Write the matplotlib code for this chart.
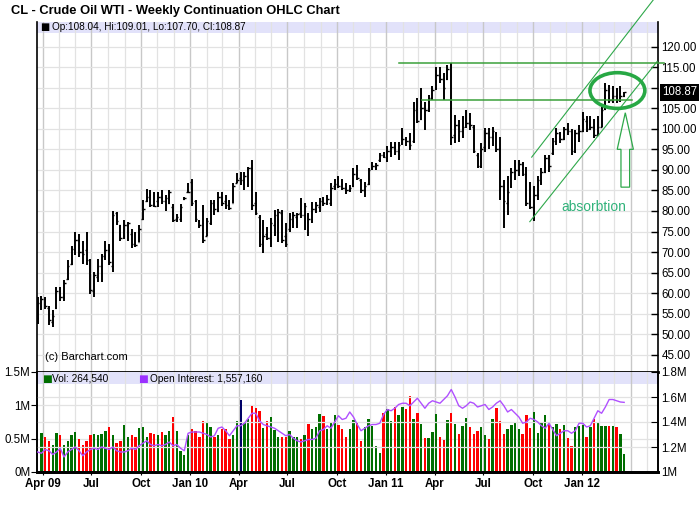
import matplotlib
matplotlib.use('Agg')
import matplotlib.pyplot as plt
import matplotlib.dates as mdates
import matplotlib.transforms as mtransforms
from matplotlib.patches import Ellipse, Polygon
import numpy as np
import pandas as pd

plt.rcParams['font.family'] = ['Liberation Sans', 'DejaVu Sans']

# ---------------- data (weekly bars, first week starts 2009-03-23) ----------------
first_week = '2009-03-23'

opens = [54.0, 57.0, 58.5, 56.5, 53.0, 56.5, 60.5, 59.0, 63.5, 67.0,
         70.5, 73.0, 70.0, 70.5, 68.0, 60.5, 64.0, 66.5, 69.0, 70.5,
         66.5, 79.5, 76.5, 74.0, 76.5, 74.5, 72.0, 72.5, 78.0, 82.5,
         84.0, 82.0, 82.5, 83.5, 82.5, 82.0, 81.0, 78.0, 78.0, 82.8,
         84.5, 87.0, 82.5, 77.5, 77.0, 74.0, 77.0, 81.5, 80.0, 83.5,
         82.5, 82.0, 81.9, 86.7, 88.0, 87.0, 86.5, 90.5, 82.0, 78.5,
         72.5, 74.5, 73.5, 76.5, 78.0, 79.5, 74.0, 75.5, 77.5, 78.5,
         79.5, 79.0, 79.0, 77.5, 80.5, 81.0, 82.5, 82.0, 82.0, 86.0,
         87.0, 86.5, 85.5, 85.0, 86.0, 89.0, 87.5, 85.0, 86.5, 90.5,
         91.0, 92.5, 93.5, 93.0, 94.5, 95.5, 94.5, 96.5, 97.5, 97.0,
         97.0, 104.0, 102.5, 105.0, 104.5, 107.5, 110.0, 113.0, 112.0, 112.0,
         115.5, 98.5, 101.0, 99.5, 101.0, 101.5, 100.5, 93.5, 91.0, 95.5,
         99.0, 98.0, 99.0, 95.0, 86.0, 82.0, 86.0, 89.5, 90.0, 91.5,
         89.0, 82.5, 81.0, 84.0, 87.0, 89.5, 93.0, 94.0, 97.0, 99.0,
         97.5, 100.0, 99.5, 94.5, 99.0, 99.5, 102.0, 100.0, 100.5, 98.5,
         100.5, 104.8, 109.5, 107.0, 108.0, 107.0, 108.04]

highs = [59.1, 59.2, 59.0, 57.0, 55.8, 61.5, 61.5, 63.3, 68.0, 71.6,
         74.9, 74.5, 72.8, 74.9, 68.4, 65.1, 68.4, 69.6, 72.8, 72.0,
         80.1, 79.7, 76.5, 77.7, 77.3, 75.7, 74.9, 76.5, 82.6, 85.4,
         85.0, 84.6, 84.6, 85.0, 83.8, 85.2, 81.8, 79.3, 81.8, 83.4,
         86.9, 87.7, 82.7, 77.8, 81.5, 78.2, 82.7, 82.7, 84.7, 84.7,
         83.9, 82.7, 86.7, 89.2, 89.6, 89.6, 90.8, 92.4, 84.7, 79.0,
         77.8, 76.2, 78.2, 80.2, 80.6, 80.2, 77.0, 79.4, 79.8, 79.4,
         83.1, 81.9, 79.4, 82.3, 82.3, 83.1, 83.5, 83.9, 86.7, 87.9,
         88.4, 87.9, 86.7, 86.3, 90.4, 91.2, 87.9, 87.1, 90.4, 92.0,
         91.6, 94.0, 94.4, 95.7, 96.7, 96.9, 96.9, 100.1, 98.1, 98.9,
         106.6, 107.4, 109.8, 106.6, 108.2, 110.3, 115.1, 115.1, 113.5, 115.5,
         115.9, 103.4, 102.1, 103.0, 104.6, 103.8, 100.9, 94.0, 96.5, 100.1,
         100.1, 100.5, 99.3, 98.1, 87.5, 88.4, 90.4, 92.4, 92.4, 92.0,
         90.8, 87.1, 86.0, 88.4, 90.4, 93.6, 93.6, 97.7, 100.1, 99.3,
         100.5, 101.3, 100.0, 99.7, 100.9, 104.2, 103.0, 103.0, 102.5, 103.0,
         105.4, 111.1, 110.7, 110.3, 109.8, 110.3, 109.01]

lows = [52.6, 55.8, 56.2, 52.2, 51.8, 56.2, 58.1, 58.2, 63.1, 66.8,
        69.2, 68.8, 67.2, 66.8, 59.9, 59.1, 62.7, 62.7, 68.0, 66.8,
        65.2, 76.5, 72.8, 73.3, 72.8, 70.9, 71.3, 72.4, 77.7, 82.2,
        80.9, 81.0, 80.9, 81.8, 80.1, 81.8, 77.3, 77.3, 77.3, 82.6,
        84.3, 81.1, 77.4, 75.8, 72.1, 73.8, 76.6, 79.0, 79.8, 81.1,
        80.6, 80.2, 81.9, 86.7, 86.3, 85.1, 85.9, 80.2, 79.0, 71.3,
        69.7, 73.0, 71.3, 73.8, 72.5, 72.1, 71.3, 75.0, 75.8, 75.8,
        78.2, 75.4, 73.8, 77.0, 79.4, 79.8, 81.1, 81.5, 81.1, 85.1,
        85.5, 85.1, 84.1, 84.7, 85.9, 87.5, 84.3, 83.5, 86.3, 90.0,
        90.0, 92.0, 92.8, 92.0, 93.2, 93.6, 92.4, 96.1, 95.7, 94.8,
        96.5, 101.3, 102.1, 99.7, 104.2, 107.0, 109.4, 111.1, 107.0, 111.9,
        96.1, 96.5, 96.9, 97.7, 100.1, 99.7, 94.0, 90.4, 90.4, 94.4,
        95.2, 95.7, 94.4, 82.7, 75.8, 79.0, 85.5, 87.5, 88.4, 88.4,
        81.1, 80.5, 77.6, 82.7, 86.3, 89.2, 89.6, 93.5, 96.1, 96.5,
        97.3, 98.5, 93.6, 94.0, 96.9, 99.3, 99.3, 99.7, 97.7, 98.5,
        100.5, 104.5, 106.2, 106.2, 106.2, 106.5, 107.70]

closes = [57.5, 58.5, 57.0, 53.5, 54.5, 60.5, 59.0, 62.5, 66.5, 70.8,
          73.0, 70.0, 69.5, 68.0, 60.8, 64.5, 66.5, 69.0, 70.5, 67.5,
          79.0, 77.5, 73.5, 76.5, 77.0, 72.0, 71.8, 75.5, 80.5, 83.5,
          81.5, 81.2, 83.5, 82.5, 83.2, 84.5, 77.7, 78.5, 81.0, 83.2,
          84.7, 82.0, 78.0, 76.5, 73.0, 77.5, 82.0, 80.5, 83.5, 82.0,
          81.5, 80.8, 86.0, 87.5, 87.5, 88.5, 90.5, 81.5, 79.5, 72.0,
          74.0, 73.5, 77.0, 79.0, 79.8, 73.0, 72.0, 78.0, 79.0, 79.3,
          79.0, 81.2, 78.0, 80.5, 81.5, 82.5, 82.0, 83.0, 85.5, 86.5,
          86.0, 85.5, 85.0, 85.5, 89.0, 88.0, 85.0, 86.0, 90.0, 91.0,
          91.3, 93.5, 93.2, 94.5, 95.5, 94.5, 96.0, 97.5, 97.0, 96.0,
          104.5, 102.0, 105.0, 104.5, 107.5, 109.5, 113.0, 112.0, 110.0, 114.5,
          98.0, 101.0, 99.5, 100.5, 101.5, 101.0, 94.5, 91.0, 95.0, 99.0,
          98.0, 99.5, 95.0, 86.0, 82.5, 84.5, 89.5, 90.0, 91.5, 89.0,
          82.0, 81.0, 84.0, 87.5, 89.5, 93.0, 91.0, 97.0, 99.0, 97.5,
          100.0, 99.5, 94.5, 99.0, 99.5, 102.5, 100.0, 100.5, 98.5, 100.5,
          104.5, 109.5, 107.0, 108.0, 107.0, 108.0, 108.87]

# weekly volume (millions), from the 2nd week on
volume_m = [0.59, 0.52, 0.46, 0.41, 0.59, 0.56, 0.40, 0.47, 0.56, 0.60,
            0.50, 0.41, 0.47, 0.55, 0.57, 0.55, 0.57, 0.62, 0.67, 0.56,
            0.44, 0.46, 0.71, 0.53, 0.55, 0.53, 0.66, 0.67, 0.52, 0.58,
            0.57, 0.56, 0.60, 0.56, 0.62, 0.83, 0.62, 0.31, 0.25, 0.56,
            0.64, 0.62, 0.52, 0.77, 0.74, 0.68, 0.52, 0.55, 0.64, 0.64,
            0.50, 0.55, 0.77, 1.08, 0.73, 0.80, 0.99, 0.96, 0.91, 0.66,
            0.77, 0.83, 0.63, 0.52, 0.53, 0.52, 0.62, 0.52, 0.52, 0.50,
            0.56, 0.72, 0.65, 0.67, 0.87, 0.84, 0.64, 0.74, 0.86, 0.71,
            0.65, 0.52, 0.65, 0.78, 0.74, 0.46, 0.67, 0.80, 0.69, 0.39,
            0.29, 0.89, 0.95, 0.76, 0.97, 0.85, 0.97, 0.94, 1.14, 0.79,
            0.89, 0.72, 0.51, 0.51, 0.60, 0.87, 0.52, 0.48, 0.78, 0.88,
            0.72, 0.57, 0.69, 0.81, 0.67, 0.57, 0.61, 0.67, 0.55, 0.49,
            0.79, 0.96, 0.76, 0.57, 0.64, 0.70, 0.73, 0.64, 0.57, 0.86,
            0.66, 0.90, 0.58, 0.73, 0.86, 0.72, 0.67, 0.72, 0.65, 0.70,
            0.51, 0.39, 0.67, 0.69, 0.70, 0.52, 0.67, 0.80, 0.74, 0.69,
            0.69, 0.69, 0.69, 0.67, 0.57, 0.26454]

# open interest (millions)
open_interest_m = [1.16, 1.15, 1.18, 1.17, 1.14, 1.16, 1.19, 1.12, 1.16, 1.18,
                   1.20, 1.17, 1.13, 1.16, 1.18, 1.19, 1.18, 1.20, 1.19, 1.18,
                   1.20, 1.17, 1.16, 1.16, 1.17, 1.19, 1.18, 1.21, 1.23, 1.25,
                   1.22, 1.21, 1.22, 1.21, 1.22, 1.24, 1.21, 1.22, 1.19, 1.17,
                   1.31, 1.32, 1.32, 1.32, 1.31, 1.30, 1.28, 1.29, 1.35, 1.36,
                   1.33, 1.29, 1.33, 1.37, 1.37, 1.39, 1.43, 1.47, 1.47, 1.41,
                   1.38, 1.37, 1.36, 1.35, 1.33, 1.31, 1.29, 1.30, 1.27, 1.25,
                   1.24, 1.25, 1.26, 1.26, 1.27, 1.33, 1.34, 1.37, 1.35, 1.40,
                   1.45, 1.42, 1.43, 1.48, 1.44, 1.38, 1.33, 1.35, 1.37, 1.38,
                   1.38, 1.39, 1.46, 1.50, 1.49, 1.51, 1.54, 1.55, 1.55, 1.53,
                   1.56, 1.59, 1.55, 1.51, 1.55, 1.57, 1.56, 1.55, 1.58, 1.61,
                   1.66, 1.60, 1.53, 1.51, 1.53, 1.56, 1.55, 1.52, 1.53, 1.54,
                   1.50, 1.52, 1.55, 1.57, 1.53, 1.48, 1.50, 1.47, 1.44, 1.39,
                   1.40, 1.43, 1.42, 1.40, 1.37, 1.35, 1.39, 1.34, 1.29, 1.31,
                   1.33, 1.33, 1.31, 1.33, 1.39, 1.39, 1.36, 1.37, 1.43, 1.49,
                   1.47, 1.52, 1.58, 1.58, 1.57, 1.56, 1.55716]

quarter_labels = ['Apr 09', 'Jul', 'Oct', 'Jan 10', 'Apr', 'Jul', 'Oct',
                  'Jan 11', 'Apr', 'Jul', 'Oct', 'Jan 12']
quarter_starts = ['2009-04-01', '2009-07-01', '2009-10-01', '2010-01-01',
                  '2010-04-01', '2010-07-01', '2010-10-01', '2011-01-01',
                  '2011-04-01', '2011-07-01', '2011-10-01', '2012-01-01']
price_ticks = list(range(45, 121, 5))
vol_ticks = [0, 0.5, 1.0, 1.5]
vol_tick_labels = ['0M', '0.5M', '1M', '1.5M']
oi_ticks = [1.0, 1.2, 1.4, 1.6, 1.8]
oi_tick_labels = ['1M', '1.2M', '1.4M', '1.6M', '1.8M']

# hand-drawn annotations: (week index, price)
upper_channel = [(131.4, 93.1), (163.7, 131.3)]
lower_channel = [(130.9, 77.4), (164.8, 116.4)]
resistance_top = [(96.1, 116.0), (166.6, 116.0)]
resistance_mid = [(102.3, 106.95), (158.0, 106.95)]
ellipse_center = (154.2, 109.3)
ellipse_size = (14.6, 8.7)   # weeks, price
arrow_tip = (156.3, 103.9)
arrow_head_base = 95.0
arrow_bottom = 85.8
arrow_head_half = 2.15
arrow_shaft_half = 1.15
label_pos = (148.0, 81.0)

# ---------------- figure ----------------
W, H = 700, 512
fig = plt.figure(figsize=(7.0, 5.12), dpi=100)
fig.patch.set_facecolor('white')

ax = fig.add_axes([37 / W, 1 - 371.5 / H, 621 / W, 350 / H])
axv = fig.add_axes([37 / W, 1 - 472 / H, 621 / W, 100.5 / H])
axo = axv.twinx()

dates = pd.date_range(first_week, periods=len(closes), freq='7D')
xd = mdates.date2num(dates)
x0 = xd[0]
xleft = x0 - 1.3
xright = xleft + 1156.3


def wk(w):
    return x0 + 7.0 * w


band_col = '#E2E2FA'
grid_light = '#E2E2E2'
grid_dark = '#C8C8C8'

months = pd.date_range('2009-04-01', '2012-05-01', freq='MS')
for a in (ax, axv):
    for m in months:
        mx = mdates.date2num(m)
        if m.month in (1, 4, 7, 10):
            a.axvline(mx, color=grid_dark, lw=1.0, zorder=0.6)
        else:
            a.axvline(mx, color=grid_light, lw=0.9, zorder=0.6)

# ---- price panel ----
ax.set_xlim(xleft, xright)
ax.set_ylim(40.95, 126.1)
ax.axhspan(123.3, 130, color=band_col, zorder=0.3, lw=0)
for p in price_ticks:
    ax.axhline(p, color=grid_light, lw=0.9, zorder=0.6)

ax.vlines(xd, lows, highs, color='black', lw=1.4, zorder=3)
ax.hlines(opens, xd - 3.0, xd, color='black', lw=1.0, zorder=3)
ax.hlines(closes, xd, xd + 3.0, color='black', lw=1.0, zorder=3)

ax.yaxis.tick_right()
ax.set_yticks(price_ticks)
ax.set_yticklabels(['' if p == 110 else '%.2f' % p for p in price_ticks])
ax.tick_params(axis='y', direction='in', length=5, width=1, pad=2.5,
               labelsize=8.3, colors='black')
ax.tick_params(axis='x', bottom=False, labelbottom=False)
for s in ('left', 'right'):
    ax.spines[s].set_color('black')
    ax.spines[s].set_linewidth(1.2)
ax.spines['top'].set_visible(False)
ax.spines['bottom'].set_linewidth(2.0)
ax.spines['bottom'].set_color('black')

last_o, last_h, last_l, last_c = opens[-1], highs[-1], lows[-1], closes[-1]
ax.text(0.0055, 0.984, '\u25A0', transform=ax.transAxes, fontsize=7,
        va='center', ha='left', color='black',
        family=['DejaVu Sans'])
ax.text(0.0245, 0.984,
        'Op:%.2f, Hi:%.2f, Lo:%.2f, Cl:%.2f' % (last_o, last_h, last_l, last_c),
        transform=ax.transAxes, fontsize=7.2, va='center', ha='left')
ax.text(0.013, 0.042, '(c) Barchart.com', transform=ax.transAxes,
        fontsize=8, va='center', ha='left')

trans = mtransforms.blended_transform_factory(ax.transAxes, ax.transData)
ax.text(1.0065, last_c, '%.2f' % last_c, transform=trans, color='white',
        fontsize=8.3, va='center', ha='left',
        bbox=dict(facecolor='black', edgecolor='none', pad=1.6))

# annotations
ann = '#2EA84A'
for seg, lw in ((upper_channel, 0.8), (lower_channel, 0.8)):
    ax.plot([wk(seg[0][0]), wk(seg[1][0])], [seg[0][1], seg[1][1]],
            color=ann, lw=lw, clip_on=False, zorder=4)
for seg in (resistance_top, resistance_mid):
    ax.plot([wk(seg[0][0]), wk(seg[1][0])], [seg[0][1], seg[1][1]],
            color='#3AA03A', lw=1.1, clip_on=False, zorder=4)
ax.add_patch(Ellipse((wk(ellipse_center[0]), ellipse_center[1]),
                     7.0 * ellipse_size[0], ellipse_size[1], fill=False,
                     edgecolor='#27A844', lw=2.6, zorder=5, clip_on=False))
tx, ty = arrow_tip
arrow_pts = [(wk(tx), ty),
             (wk(tx + arrow_head_half), arrow_head_base),
             (wk(tx + arrow_shaft_half), arrow_head_base),
             (wk(tx + arrow_shaft_half), arrow_bottom),
             (wk(tx - arrow_shaft_half), arrow_bottom),
             (wk(tx - arrow_shaft_half), arrow_head_base),
             (wk(tx - arrow_head_half), arrow_head_base)]
ax.add_patch(Polygon(arrow_pts, closed=True, fill=False, edgecolor=ann,
                     lw=0.9, zorder=5))
ax.text(wk(label_pos[0]), label_pos[1], 'absorbtion', color='#30B27A',
        fontsize=10, ha='center', va='center', zorder=5)

# ---- volume panel ----
vol_x = xd[1:]
vol_colors = []
for i in range(1, len(closes)):
    if closes[i] > closes[i - 1]:
        vol_colors.append('#006E00')
    elif closes[i] < closes[i - 1]:
        vol_colors.append('#FF0000')
    else:
        vol_colors.append('#000066')

axv.set_xlim(xleft, xright)
axv.set_ylim(0, 1.5075)
axv.axhspan(1.32, 1.6, color=band_col, zorder=0.3, lw=0)
for v in (0.5, 1.0):
    axv.axhline(v, color=grid_light, lw=0.9, zorder=0.6)
axv.bar(vol_x, volume_m, width=4.4, color=vol_colors, zorder=2, lw=0)

axo.set_ylim(1.0, 1.804)
for v in (1.2, 1.4, 1.6):
    axo.axhline(v, color=grid_light, lw=0.9, zorder=0.6)
axo.plot(xd, open_interest_m, color='#B050FF', lw=1.0, zorder=3)
axo.set_yticks(oi_ticks)
axo.set_yticklabels(oi_tick_labels)
axo.tick_params(axis='y', direction='in', length=5, pad=2.5, labelsize=8.3)

axv.set_yticks(vol_ticks)
axv.set_yticklabels(vol_tick_labels)
axv.tick_params(axis='y', direction='out', length=4, pad=0.8, labelsize=8.3)
axv.set_xticks([mdates.date2num(pd.Timestamp(q)) for q in quarter_starts])
axv.set_xticklabels(quarter_labels, fontweight='bold', fontsize=8.3)
axv.tick_params(axis='x', direction='out', length=2.5, pad=1.8)

for a in (axv, axo):
    a.spines['top'].set_visible(False)
    for s in ('left', 'right'):
        a.spines[s].set_color('black')
        a.spines[s].set_linewidth(1.2)
    a.spines['bottom'].set_linewidth(2.0)

axv.text(0.0075, 0.93, '\u25A0', transform=axv.transAxes, fontsize=7.5,
         color='#006E00', va='center', ha='left', family=['DejaVu Sans'])
axv.text(0.0245, 0.93, 'Vol: {:,}'.format(int(round(volume_m[-1] * 1e6))),
         transform=axv.transAxes, fontsize=7.3, va='center', ha='left')
axv.text(0.163, 0.93, '\u25A0', transform=axv.transAxes, fontsize=7.5,
         color='#9B30FF', va='center', ha='left', family=['DejaVu Sans'])
axv.text(0.182, 0.93,
         'Open Interest: {:,}'.format(int(round(open_interest_m[-1] * 1e6))),
         transform=axv.transAxes, fontsize=7.3, va='center', ha='left')

fig.text(11 / W, 1 - 11 / H, 'CL - Crude Oil WTI - Weekly Continuation OHLC Chart',
         fontsize=9.3, fontweight='bold', ha='left', va='center')

fig.savefig('out.png', dpi=100)
